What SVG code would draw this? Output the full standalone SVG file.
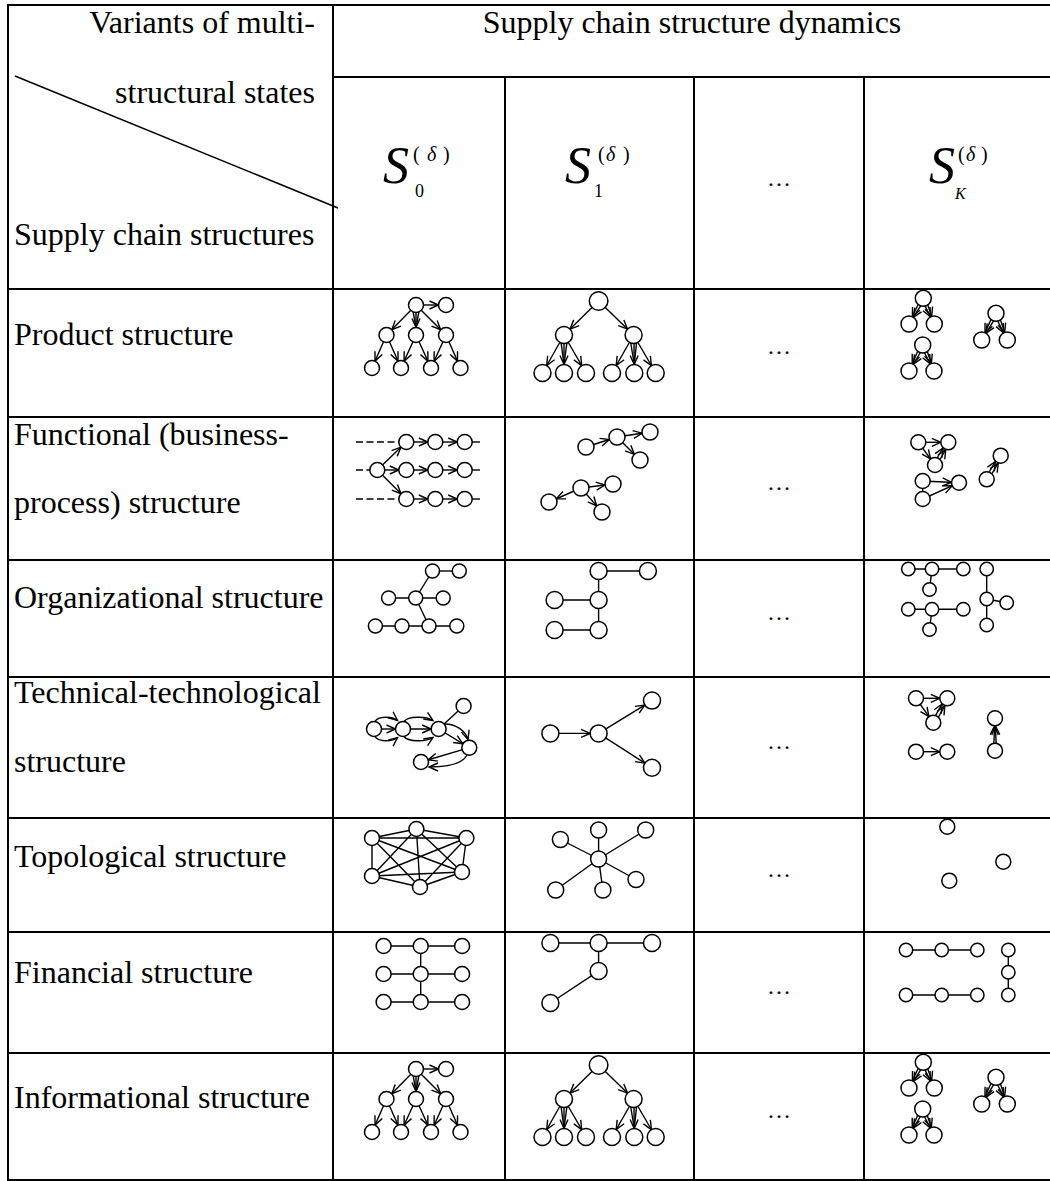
<svg xmlns="http://www.w3.org/2000/svg" width="1050" height="1181" viewBox="0 0 1050 1181">
<style>
.t{font-family:"Liberation Serif","Times New Roman",serif;font-size:32px;fill:#000}
.m{font-family:"Liberation Serif","Times New Roman",serif;fill:#000}
.grid line{stroke:#000;stroke-width:2}
.e line,.e path{stroke:#000;stroke-width:1.4;fill:none}
.e .d{stroke-dasharray:7 3.5;stroke-width:1.6}
.n circle{fill:#fff;stroke:#000;stroke-width:1.5}
</style>
<defs>
<marker id="a0" viewBox="0 0 10 10" refX="10" refY="5" markerWidth="10" markerHeight="10" markerUnits="userSpaceOnUse" orient="auto" overflow="visible"><path d="M1,1 L10,5 L1,9" fill="none" stroke="#000" stroke-width="1.4"/></marker>
<marker id="a67" viewBox="0 0 10 10" refX="16.7" refY="5" markerWidth="10" markerHeight="10" markerUnits="userSpaceOnUse" orient="auto" overflow="visible"><path d="M1,1 L10,5 L1,9" fill="none" stroke="#000" stroke-width="1.4"/></marker>
<marker id="a75" viewBox="0 0 10 10" refX="17.5" refY="5" markerWidth="10" markerHeight="10" markerUnits="userSpaceOnUse" orient="auto" overflow="visible"><path d="M1,1 L10,5 L1,9" fill="none" stroke="#000" stroke-width="1.4"/></marker>
<marker id="a8" viewBox="0 0 10 10" refX="18" refY="5" markerWidth="10" markerHeight="10" markerUnits="userSpaceOnUse" orient="auto" overflow="visible"><path d="M1,1 L10,5 L1,9" fill="none" stroke="#000" stroke-width="1.4"/></marker>
<marker id="a85" viewBox="0 0 10 10" refX="18.5" refY="5" markerWidth="10" markerHeight="10" markerUnits="userSpaceOnUse" orient="auto" overflow="visible"><path d="M1,1 L10,5 L1,9" fill="none" stroke="#000" stroke-width="1.4"/></marker>
</defs>

<g id="table" class="grid">
<line x1="7" y1="5" x2="1050" y2="5"/>
<line x1="8" y1="4" x2="8" y2="1181"/>
<line x1="7" y1="1180" x2="1050" y2="1180"/>
<line x1="333" y1="5" x2="333" y2="1180"/>
<line x1="333" y1="77" x2="1050" y2="77"/>
<line x1="505" y1="77" x2="505" y2="1180"/>
<line x1="694" y1="77" x2="694" y2="1180"/>
<line x1="864" y1="77" x2="864" y2="1180"/>
<line x1="8" y1="289" x2="1050" y2="289"/>
<line x1="8" y1="417" x2="1050" y2="417"/>
<line x1="8" y1="560" x2="1050" y2="560"/>
<line x1="8" y1="677" x2="1050" y2="677"/>
<line x1="8" y1="818" x2="1050" y2="818"/>
<line x1="8" y1="932" x2="1050" y2="932"/>
<line x1="8" y1="1053" x2="1050" y2="1053"/>
<line x1="15" y1="76" x2="338" y2="208" style="stroke-width:1.5"/>
</g>

<g id="header-text">
<text class="t" x="315" y="33" text-anchor="end">Variants of multi-</text>
<text class="t" x="315" y="103" text-anchor="end">structural states</text>
<text class="t" x="14" y="245">Supply chain structures</text>
<text class="t" x="692" y="33" text-anchor="middle">Supply chain structure dynamics</text>
</g>

<g id="state-s0">
<text class="m" x="383" y="183" font-size="52" font-style="italic">S</text>
<text class="m" x="413" y="161" font-size="20">(</text>
<text class="m" x="427" y="161" font-size="20" font-style="italic">δ</text>
<text class="m" x="443" y="161" font-size="20">)</text>
<text class="m" x="415" y="197" font-size="18">0</text>
</g>
<g id="state-s1">
<text class="m" x="565" y="183" font-size="52" font-style="italic">S</text>
<text class="m" x="598" y="161" font-size="20">(</text>
<text class="m" x="606" y="161" font-size="20" font-style="italic">δ</text>
<text class="m" x="623" y="161" font-size="20">)</text>
<text class="m" x="594" y="197" font-size="18">1</text>
</g>
<text id="state-dots" class="m" x="779" y="186" font-size="24" text-anchor="middle">…</text>
<g id="state-sk">
<text class="m" x="929" y="183" font-size="52" font-style="italic">S</text>
<text class="m" x="958" y="161" font-size="20">(</text>
<text class="m" x="966" y="161" font-size="20" font-style="italic">δ</text>
<text class="m" x="981" y="161" font-size="20">)</text>
<text class="m" x="955" y="199" font-size="16" font-style="italic">K</text>
</g>

<g id="row-labels">
<text class="t" x="14" y="345">Product structure</text>
<text class="t" x="14" y="445">Functional (business-</text>
<text class="t" x="14" y="513">process) structure</text>
<text class="t" x="14" y="608">Organizational structure</text>
<text class="t" x="14" y="703">Technical-technological</text>
<text class="t" x="14" y="772">structure</text>
<text class="t" x="14" y="867">Topological structure</text>
<text class="t" x="14" y="983">Financial structure</text>
<text class="t" x="14" y="1108">Informational structure</text>
</g>

<g id="dots" class="m" font-size="24" text-anchor="middle">
<text x="779" y="354">…</text>
<text x="779" y="490">…</text>
<text x="779" y="620">…</text>
<text x="779" y="749">…</text>
<text x="779" y="877">…</text>
<text x="779" y="994">…</text>
<text x="779" y="1118">…</text>
</g>

<g id="product-s0">
<g class="e">
<line x1="416" y1="305" x2="446" y2="305" marker-end="url(#a75)"/>
<line x1="416" y1="305" x2="386.5" y2="335" marker-end="url(#a75)"/>
<line x1="416" y1="305" x2="446" y2="335" marker-end="url(#a75)"/>
<line x1="413" y1="311" x2="416" y2="327.5"/>
<line x1="419" y1="311" x2="416" y2="327.5"/>
<line x1="416" y1="311" x2="416" y2="335" marker-end="url(#a75)"/>
<line x1="386.5" y1="335" x2="372" y2="368" marker-end="url(#a75)"/>
<line x1="386.5" y1="335" x2="401" y2="368" marker-end="url(#a75)"/>
<line x1="416" y1="335" x2="401" y2="368" marker-end="url(#a75)"/>
<line x1="416" y1="335" x2="431" y2="368" marker-end="url(#a75)"/>
<line x1="446" y1="335" x2="431" y2="368" marker-end="url(#a75)"/>
<line x1="446" y1="335" x2="460.5" y2="368" marker-end="url(#a75)"/>
</g>
<g class="n">
<circle cx="416" cy="305" r="7.5"/><circle cx="446" cy="305" r="7.5"/>
<circle cx="386.5" cy="335" r="7.5"/><circle cx="416" cy="335" r="7.5"/><circle cx="446" cy="335" r="7.5"/>
<circle cx="372" cy="368" r="7.5"/><circle cx="401" cy="368" r="7.5"/><circle cx="431" cy="368" r="7.5"/><circle cx="460.5" cy="368" r="7.5"/>
</g>
</g>

<g id="product-s1">
<g class="e">
<line x1="598.6" y1="301" x2="564" y2="335" marker-end="url(#a85)"/>
<line x1="598.6" y1="301" x2="633.6" y2="335" marker-end="url(#a85)"/>
<line x1="564" y1="335" x2="542.5" y2="373" marker-end="url(#a85)"/>
<line x1="564" y1="335" x2="586" y2="373" marker-end="url(#a85)"/>
<line x1="561" y1="342" x2="564" y2="364.5"/>
<line x1="567" y1="342" x2="564" y2="364.5"/>
<line x1="564" y1="343" x2="564" y2="373" marker-end="url(#a85)"/>
<line x1="633.6" y1="335" x2="612" y2="373" marker-end="url(#a85)"/>
<line x1="633.6" y1="335" x2="655.7" y2="373" marker-end="url(#a85)"/>
<line x1="630.6" y1="342" x2="634.3" y2="364.5"/>
<line x1="636.6" y1="342" x2="634.3" y2="364.5"/>
<line x1="634" y1="343" x2="634.3" y2="373" marker-end="url(#a85)"/>
</g>
<g class="n">
<circle cx="598.6" cy="301" r="9.3"/>
<circle cx="564" cy="335" r="8.5"/><circle cx="633.6" cy="335" r="8.5"/>
<circle cx="542.5" cy="373" r="8.5"/><circle cx="564" cy="373" r="8.5"/><circle cx="586" cy="373" r="8.5"/>
<circle cx="612" cy="373" r="8.5"/><circle cx="634.3" cy="373" r="8.5"/><circle cx="655.7" cy="373" r="8.5"/>
</g>
</g>

<g id="product-sk">
<g class="e">
<line x1="921" y1="298.3" x2="909" y2="324" marker-end="url(#a8)"/>
<line x1="925.5" y1="298.3" x2="909" y2="324" marker-end="url(#a8)"/>
<line x1="921" y1="298.3" x2="934.3" y2="324" marker-end="url(#a8)"/>
<line x1="925.5" y1="298.3" x2="934.3" y2="324" marker-end="url(#a8)"/>
<line x1="920.5" y1="345" x2="909" y2="371" marker-end="url(#a8)"/>
<line x1="925" y1="345" x2="909" y2="371" marker-end="url(#a8)"/>
<line x1="920.5" y1="345" x2="934" y2="371" marker-end="url(#a8)"/>
<line x1="925" y1="345" x2="934" y2="371" marker-end="url(#a8)"/>
<line x1="993.8" y1="313.3" x2="981.7" y2="340" marker-end="url(#a8)"/>
<line x1="998.2" y1="313.3" x2="981.7" y2="340" marker-end="url(#a8)"/>
<line x1="993.8" y1="313.3" x2="1007.3" y2="340" marker-end="url(#a8)"/>
<line x1="998.2" y1="313.3" x2="1007.3" y2="340" marker-end="url(#a8)"/>
</g>
<g class="n">
<circle cx="923.3" cy="298.3" r="8"/><circle cx="909" cy="324" r="8"/><circle cx="934.3" cy="324" r="8"/>
<circle cx="922.7" cy="345" r="8"/><circle cx="909" cy="371" r="8"/><circle cx="934" cy="371" r="8"/>
<circle cx="996" cy="313.3" r="8"/><circle cx="981.7" cy="340" r="8"/><circle cx="1007.3" cy="340" r="8"/>
</g>
</g>

<g id="functional-s0">
<g class="e">
<line class="d" x1="356" y1="442" x2="399" y2="442"/>
<line class="d" x1="356" y1="470" x2="370" y2="470"/>
<line class="d" x1="356" y1="499" x2="399" y2="499"/>
<line x1="472" y1="442" x2="480" y2="442"/>
<line x1="472" y1="470" x2="480" y2="470"/>
<line x1="472" y1="499" x2="480" y2="499"/>
<line x1="406.3" y1="442" x2="435.3" y2="442" marker-end="url(#a75)"/>
<line x1="435.3" y1="442" x2="464.7" y2="442" marker-end="url(#a75)"/>
<line x1="377.3" y1="470" x2="406.3" y2="470" marker-end="url(#a75)"/>
<line x1="406.3" y1="470" x2="435.3" y2="470" marker-end="url(#a75)"/>
<line x1="435.3" y1="470" x2="464.7" y2="470" marker-end="url(#a75)"/>
<line x1="406.3" y1="499" x2="435.3" y2="499" marker-end="url(#a75)"/>
<line x1="435.3" y1="499" x2="464.7" y2="499" marker-end="url(#a75)"/>
<line x1="377.3" y1="470" x2="406.3" y2="442" marker-end="url(#a75)"/>
<line x1="377.3" y1="470" x2="406.3" y2="499" marker-end="url(#a75)"/>
</g>
<g class="n">
<circle cx="406.3" cy="442" r="7.5"/><circle cx="435.3" cy="442" r="7.5"/><circle cx="464.7" cy="442" r="7.5"/>
<circle cx="377.3" cy="470" r="7.5"/><circle cx="406.3" cy="470" r="7.5"/><circle cx="435.3" cy="470" r="7.5"/><circle cx="464.7" cy="470" r="7.5"/>
<circle cx="406.3" cy="499" r="7.5"/><circle cx="435.3" cy="499" r="7.5"/><circle cx="464.7" cy="499" r="7.5"/>
</g>
</g>

<g id="functional-s1">
<g class="e">
<line x1="586" y1="447" x2="617" y2="437" marker-end="url(#a8)"/>
<line x1="617" y1="437" x2="650" y2="432" marker-end="url(#a8)"/>
<line x1="617" y1="437" x2="640" y2="460" marker-end="url(#a8)"/>
<line x1="581" y1="488" x2="549" y2="502" marker-end="url(#a8)"/>
<line x1="581" y1="488" x2="613" y2="484" marker-end="url(#a8)"/>
<line x1="581" y1="488" x2="602" y2="512" marker-end="url(#a8)"/>
</g>
<g class="n">
<circle cx="586" cy="447" r="8"/><circle cx="617" cy="437" r="8"/><circle cx="650" cy="432" r="8"/><circle cx="640" cy="460" r="8"/>
<circle cx="549" cy="502" r="8"/><circle cx="581" cy="488" r="8"/><circle cx="613" cy="484" r="8"/><circle cx="602" cy="512" r="8"/>
</g>
</g>

<g id="functional-sk">
<g class="e">
<line x1="918.3" y1="442.3" x2="948.3" y2="442.3" marker-end="url(#a75)"/>
<line x1="918.3" y1="442.3" x2="935" y2="465" marker-end="url(#a75)"/>
<line x1="933.5" y1="464" x2="947" y2="441.5" marker-end="url(#a75)"/>
<line x1="936.5" y1="465.5" x2="949.5" y2="443" marker-end="url(#a75)"/>
<line x1="922.7" y1="481" x2="922.7" y2="499"/>
<line x1="922.7" y1="481" x2="959" y2="482.7" marker-end="url(#a75)"/>
<line x1="922.7" y1="499" x2="959" y2="482.7" marker-end="url(#a75)"/>
<line x1="985.3" y1="478.5" x2="999.3" y2="455" marker-end="url(#a75)"/>
<line x1="988.1" y1="480.1" x2="1002.1" y2="456.5" marker-end="url(#a75)"/>
</g>
<g class="n">
<circle cx="918.3" cy="442.3" r="7.5"/><circle cx="948.3" cy="442.3" r="7.5"/><circle cx="935" cy="465" r="7.5"/>
<circle cx="922.7" cy="481" r="7.5"/><circle cx="922.7" cy="499" r="7.5"/><circle cx="959" cy="482.7" r="7.5"/>
<circle cx="986.7" cy="479.3" r="7.5"/><circle cx="1000.7" cy="455.7" r="7.5"/>
</g>
</g>

<g id="organizational-s0">
<g class="e">
<line x1="432.5" y1="571" x2="459.3" y2="571"/>
<line x1="432.5" y1="571" x2="415.7" y2="598"/>
<line x1="388.6" y1="598" x2="443.2" y2="598"/>
<line x1="415.7" y1="598" x2="429" y2="626"/>
<line x1="375.4" y1="626" x2="456.8" y2="626"/>
</g>
<g class="n">
<circle cx="432.5" cy="571" r="7"/><circle cx="459.3" cy="571" r="7"/>
<circle cx="388.6" cy="598" r="7"/><circle cx="415.7" cy="598" r="7"/><circle cx="443.2" cy="598" r="7"/>
<circle cx="375.4" cy="626" r="7"/><circle cx="402" cy="626" r="7"/><circle cx="429" cy="626" r="7"/><circle cx="456.8" cy="626" r="7"/>
</g>
</g>

<g id="organizational-s1">
<g class="e">
<line x1="598.6" y1="571" x2="647.9" y2="571"/>
<line x1="598.6" y1="571" x2="598.6" y2="630"/>
<line x1="554.6" y1="600" x2="598.6" y2="600"/>
<line x1="554.6" y1="630" x2="598.6" y2="630"/>
</g>
<g class="n">
<circle cx="598.6" cy="571" r="8.5"/><circle cx="647.9" cy="571" r="8.5"/>
<circle cx="554.6" cy="600" r="8.5"/><circle cx="598.6" cy="600" r="8.5"/>
<circle cx="554.6" cy="630" r="8.5"/><circle cx="598.6" cy="630" r="8.5"/>
</g>
</g>

<g id="organizational-sk">
<g class="e">
<line x1="908.3" y1="569" x2="963.3" y2="569"/>
<line x1="932" y1="569" x2="929.5" y2="589.5"/>
<line x1="908.3" y1="609.3" x2="963.3" y2="609.3"/>
<line x1="932" y1="609.3" x2="929.5" y2="629.5"/>
<line x1="986.7" y1="569" x2="986.7" y2="625"/>
<line x1="986.7" y1="599" x2="1006.7" y2="602.7"/>
</g>
<g class="n">
<circle cx="908.3" cy="569" r="6.7"/><circle cx="932" cy="569" r="6.7"/><circle cx="963.3" cy="569" r="6.7"/><circle cx="929.5" cy="589.5" r="6.7"/>
<circle cx="908.3" cy="609.3" r="6.7"/><circle cx="932" cy="609.3" r="6.7"/><circle cx="963.3" cy="609.3" r="6.7"/><circle cx="929.5" cy="629.5" r="6.7"/>
<circle cx="986.7" cy="569" r="6.7"/><circle cx="986.7" cy="599" r="6.7"/><circle cx="1006.7" cy="602.7" r="6.7"/><circle cx="986.7" cy="625" r="6.7"/>
</g>
</g>

<g id="technical-s0">
<g class="e">
<path d="M375,721.5 C378,716 392,716 397.5,720.5" marker-end="url(#a0)"/>
<line x1="374" y1="729" x2="403" y2="729" marker-end="url(#a75)"/>
<path d="M375,736.5 C378,742 392,742 397.5,737.5" marker-end="url(#a0)"/>
<path d="M404,721.5 C408,716 426,716 433,720.5" marker-end="url(#a0)"/>
<line x1="403" y1="729" x2="438.6" y2="729" marker-end="url(#a75)"/>
<path d="M404,736.5 C408,742 426,742 433,737.5" marker-end="url(#a0)"/>
<line x1="438.6" y1="729" x2="463.6" y2="706"/>
<line x1="438.6" y1="729" x2="469.3" y2="747.7" marker-end="url(#a75)"/>
<path d="M445,724 C455,724 465,730 468,739.5" marker-end="url(#a0)"/>
<line x1="469.3" y1="747.7" x2="421" y2="762" marker-end="url(#a75)"/>
<path d="M467,755 C462,765 445,767 429,767" marker-end="url(#a0)"/>
</g>
<g class="n">
<circle cx="374" cy="729" r="7.5"/><circle cx="403" cy="729" r="7.5"/><circle cx="438.6" cy="729" r="7.5"/>
<circle cx="463.6" cy="706" r="7.5"/><circle cx="469.3" cy="747.7" r="7.5"/><circle cx="421" cy="762" r="7.5"/>
</g>
</g>

<g id="technical-s1">
<g class="e">
<line x1="550.4" y1="733.4" x2="598.6" y2="733.4" marker-end="url(#a85)"/>
<line x1="598.6" y1="733.4" x2="652" y2="700.6" marker-end="url(#a85)"/>
<line x1="598.6" y1="733.4" x2="652" y2="767.7" marker-end="url(#a85)"/>
</g>
<g class="n">
<circle cx="550.4" cy="733.4" r="8.5"/><circle cx="598.6" cy="733.4" r="8.5"/>
<circle cx="652" cy="700.6" r="8.5"/><circle cx="652" cy="767.7" r="8.5"/>
</g>
</g>

<g id="technical-sk">
<g class="e">
<line x1="916" y1="698.3" x2="947.3" y2="698.3" marker-end="url(#a75)"/>
<line x1="916" y1="698.3" x2="933.3" y2="722.7" marker-end="url(#a75)"/>
<line x1="931.8" y1="721.8" x2="946" y2="697.5" marker-end="url(#a75)"/>
<line x1="934.8" y1="723.5" x2="948.6" y2="699.1" marker-end="url(#a75)"/>
<line x1="916" y1="751.7" x2="947.3" y2="751.7" marker-end="url(#a75)"/>
<line x1="993.5" y1="750.7" x2="995" y2="718.3" marker-end="url(#a75)"/>
<line x1="996.5" y1="750.7" x2="995" y2="718.3" marker-end="url(#a75)"/>
</g>
<g class="n">
<circle cx="916" cy="698.3" r="7.5"/><circle cx="947.3" cy="698.3" r="7.5"/><circle cx="933.3" cy="722.7" r="7.5"/>
<circle cx="916" cy="751.7" r="7.5"/><circle cx="947.3" cy="751.7" r="7.5"/>
<circle cx="995" cy="718.3" r="7.5"/><circle cx="995" cy="750.7" r="7.5"/>
</g>
</g>

<g id="topological-s0">
<g class="e">
<path d="M372,838 L416.4,829 M372,838 L466.4,838 M372,838 L462,872 M372,838 L420,887 M372,838 L372,876 M416.4,829 L466.4,838 M416.4,829 L462,872 M416.4,829 L420,887 M416.4,829 L372,876 M466.4,838 L462,872 M466.4,838 L420,887 M466.4,838 L372,876 M462,872 L420,887 M462,872 L372,876 M420,887 L372,876"/>
</g>
<g class="n">
<circle cx="372" cy="838" r="7.5"/><circle cx="416.4" cy="829" r="7.5"/><circle cx="466.4" cy="838" r="7.5"/>
<circle cx="462" cy="872" r="7.5"/><circle cx="420" cy="887" r="7.5"/><circle cx="372" cy="876" r="7.5"/>
</g>
</g>

<g id="topological-s1">
<g class="e">
<path d="M598.6,859 L560.4,839.5 M598.6,859 L598.6,830 M598.6,859 L645.7,830 M598.6,859 L636,879.5 M598.6,859 L602.9,890 M598.6,859 L555.7,890"/>
</g>
<g class="n">
<circle cx="598.6" cy="859" r="8"/><circle cx="560.4" cy="839.5" r="8"/><circle cx="598.6" cy="830" r="8"/>
<circle cx="645.7" cy="830" r="8"/><circle cx="636" cy="879.5" r="8"/><circle cx="602.9" cy="890" r="8"/><circle cx="555.7" cy="890" r="8"/>
</g>
</g>

<g id="topological-sk" class="n">
<circle cx="947.3" cy="826.7" r="7.5"/><circle cx="1003.3" cy="861.7" r="7.5"/><circle cx="949.3" cy="880.7" r="7.5"/>
</g>

<g id="financial-s0">
<g class="e">
<path d="M383.6,946 L462.1,946 M383.6,974 L462.1,974 M383.6,1002 L462.1,1002 M420.7,946 L420.7,1002"/>
</g>
<g class="n">
<circle cx="383.6" cy="946" r="7.5"/><circle cx="420.7" cy="946" r="7.5"/><circle cx="462.1" cy="946" r="7.5"/>
<circle cx="383.6" cy="974" r="7.5"/><circle cx="420.7" cy="974" r="7.5"/><circle cx="462.1" cy="974" r="7.5"/>
<circle cx="383.6" cy="1002" r="7.5"/><circle cx="420.7" cy="1002" r="7.5"/><circle cx="462.1" cy="1002" r="7.5"/>
</g>
</g>

<g id="financial-s1">
<g class="e">
<path d="M550.4,943 L652,943 M598.6,943 L598.6,971 L550.4,1003"/>
</g>
<g class="n">
<circle cx="550.4" cy="943" r="8.5"/><circle cx="598.6" cy="943" r="8.5"/><circle cx="652" cy="943" r="8.5"/>
<circle cx="598.6" cy="971" r="8.5"/><circle cx="550.4" cy="1003" r="8.5"/>
</g>
</g>

<g id="financial-sk">
<g class="e">
<path d="M906,950 L977.3,950 M906,995 L977.3,995 M1008.3,950 L1008.3,995"/>
</g>
<g class="n">
<circle cx="906" cy="950" r="6.7"/><circle cx="941.7" cy="950" r="6.7"/><circle cx="977.3" cy="950" r="6.7"/>
<circle cx="906" cy="995" r="6.7"/><circle cx="941.7" cy="995" r="6.7"/><circle cx="977.3" cy="995" r="6.7"/>
<circle cx="1008.3" cy="950" r="6.7"/><circle cx="1008.3" cy="972.3" r="6.7"/><circle cx="1008.3" cy="995" r="6.7"/>
</g>
</g>

<g id="informational-s0" transform="translate(0,764)">
<g class="e">
<line x1="416" y1="305" x2="446" y2="305" marker-end="url(#a75)"/>
<line x1="416" y1="305" x2="386.5" y2="335" marker-end="url(#a75)"/>
<line x1="416" y1="305" x2="446" y2="335" marker-end="url(#a75)"/>
<line x1="413" y1="311" x2="416" y2="327.5"/>
<line x1="419" y1="311" x2="416" y2="327.5"/>
<line x1="416" y1="311" x2="416" y2="335" marker-end="url(#a75)"/>
<line x1="386.5" y1="335" x2="372" y2="368" marker-end="url(#a75)"/>
<line x1="386.5" y1="335" x2="401" y2="368" marker-end="url(#a75)"/>
<line x1="416" y1="335" x2="401" y2="368" marker-end="url(#a75)"/>
<line x1="416" y1="335" x2="431" y2="368" marker-end="url(#a75)"/>
<line x1="446" y1="335" x2="431" y2="368" marker-end="url(#a75)"/>
<line x1="446" y1="335" x2="460.5" y2="368" marker-end="url(#a75)"/>
</g>
<g class="n">
<circle cx="416" cy="305" r="7.5"/><circle cx="446" cy="305" r="7.5"/>
<circle cx="386.5" cy="335" r="7.5"/><circle cx="416" cy="335" r="7.5"/><circle cx="446" cy="335" r="7.5"/>
<circle cx="372" cy="368" r="7.5"/><circle cx="401" cy="368" r="7.5"/><circle cx="431" cy="368" r="7.5"/><circle cx="460.5" cy="368" r="7.5"/>
</g>
</g>

<g id="informational-s1" transform="translate(0,764)">
<g class="e">
<line x1="598.6" y1="301" x2="564" y2="335" marker-end="url(#a85)"/>
<line x1="598.6" y1="301" x2="633.6" y2="335" marker-end="url(#a85)"/>
<line x1="564" y1="335" x2="542.5" y2="373" marker-end="url(#a85)"/>
<line x1="564" y1="335" x2="586" y2="373" marker-end="url(#a85)"/>
<line x1="561" y1="342" x2="564" y2="364.5"/>
<line x1="567" y1="342" x2="564" y2="364.5"/>
<line x1="564" y1="343" x2="564" y2="373" marker-end="url(#a85)"/>
<line x1="633.6" y1="335" x2="612" y2="373" marker-end="url(#a85)"/>
<line x1="633.6" y1="335" x2="655.7" y2="373" marker-end="url(#a85)"/>
<line x1="630.6" y1="342" x2="634.3" y2="364.5"/>
<line x1="636.6" y1="342" x2="634.3" y2="364.5"/>
<line x1="634" y1="343" x2="634.3" y2="373" marker-end="url(#a85)"/>
</g>
<g class="n">
<circle cx="598.6" cy="301" r="9.3"/>
<circle cx="564" cy="335" r="8.5"/><circle cx="633.6" cy="335" r="8.5"/>
<circle cx="542.5" cy="373" r="8.5"/><circle cx="564" cy="373" r="8.5"/><circle cx="586" cy="373" r="8.5"/>
<circle cx="612" cy="373" r="8.5"/><circle cx="634.3" cy="373" r="8.5"/><circle cx="655.7" cy="373" r="8.5"/>
</g>
</g>

<g id="informational-sk" transform="translate(0,764)">
<g class="e">
<line x1="921" y1="298.3" x2="909" y2="324" marker-end="url(#a8)"/>
<line x1="925.5" y1="298.3" x2="909" y2="324" marker-end="url(#a8)"/>
<line x1="921" y1="298.3" x2="934.3" y2="324" marker-end="url(#a8)"/>
<line x1="925.5" y1="298.3" x2="934.3" y2="324" marker-end="url(#a8)"/>
<line x1="920.5" y1="345" x2="909" y2="371" marker-end="url(#a8)"/>
<line x1="925" y1="345" x2="909" y2="371" marker-end="url(#a8)"/>
<line x1="920.5" y1="345" x2="934" y2="371" marker-end="url(#a8)"/>
<line x1="925" y1="345" x2="934" y2="371" marker-end="url(#a8)"/>
<line x1="993.8" y1="313.3" x2="981.7" y2="340" marker-end="url(#a8)"/>
<line x1="998.2" y1="313.3" x2="981.7" y2="340" marker-end="url(#a8)"/>
<line x1="993.8" y1="313.3" x2="1007.3" y2="340" marker-end="url(#a8)"/>
<line x1="998.2" y1="313.3" x2="1007.3" y2="340" marker-end="url(#a8)"/>
</g>
<g class="n">
<circle cx="923.3" cy="298.3" r="8"/><circle cx="909" cy="324" r="8"/><circle cx="934.3" cy="324" r="8"/>
<circle cx="922.7" cy="345" r="8"/><circle cx="909" cy="371" r="8"/><circle cx="934" cy="371" r="8"/>
<circle cx="996" cy="313.3" r="8"/><circle cx="981.7" cy="340" r="8"/><circle cx="1007.3" cy="340" r="8"/>
</g>
</g>
</svg>
